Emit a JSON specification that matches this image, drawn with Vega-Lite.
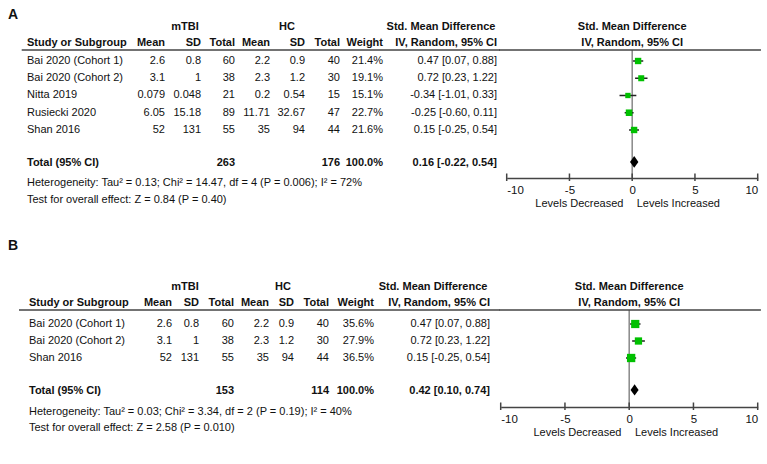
{
"$schema": "https://vega.github.io/schema/vega-lite/v6.json",
"padding": 0,
"background": "white",
"columns": 2,
"spacing": {"row": 52, "column": 0},
"bounds": "flush",
"config": {
  "view": {"stroke": null},
  "text": {"font": "Liberation Sans, Arial, sans-serif", "fontSize": 11, "color": "#111111"},
  "axis": {"labelFont": "Liberation Sans, Arial, sans-serif", "labelFontSize": 11.5, "labelColor": "#111111", "grid": false, "ticks": false, "domainColor": "#444444", "domainWidth": 1.5, "labelFlush": true, "labelPadding": 6}
},
"datasets": {
  "studies": [
    {"panel":"A","line":1,"study":"Bai 2020 (Cohort 1)","m1":2.6,"s1":0.8,"n1":60,"m2":2.2,"s2":0.9,"n2":40,"w":0.214,"smd":0.47,"lo":0.07,"hi":0.88,"ci":"0.47 [0.07, 0.88]"},
    {"panel":"A","line":2,"study":"Bai 2020 (Cohort 2)","m1":3.1,"s1":1,"n1":38,"m2":2.3,"s2":1.2,"n2":30,"w":0.191,"smd":0.72,"lo":0.23,"hi":1.22,"ci":"0.72 [0.23, 1.22]"},
    {"panel":"A","line":3,"study":"Nitta 2019","m1":0.079,"s1":0.048,"n1":21,"m2":0.2,"s2":0.54,"n2":15,"w":0.151,"smd":-0.34,"lo":-1.01,"hi":0.33,"ci":"-0.34 [-1.01, 0.33]"},
    {"panel":"A","line":4,"study":"Rusiecki 2020","m1":6.05,"s1":15.18,"n1":89,"m2":11.71,"s2":32.67,"n2":47,"w":0.227,"smd":-0.25,"lo":-0.60,"hi":0.11,"ci":"-0.25 [-0.60, 0.11]"},
    {"panel":"A","line":5,"study":"Shan 2016","m1":52,"s1":131,"n1":55,"m2":35,"s2":94,"n2":44,"w":0.216,"smd":0.15,"lo":-0.25,"hi":0.54,"ci":"0.15 [-0.25, 0.54]"},
    {"panel":"B","line":1,"study":"Bai 2020 (Cohort 1)","m1":2.6,"s1":0.8,"n1":60,"m2":2.2,"s2":0.9,"n2":40,"w":0.356,"smd":0.47,"lo":0.07,"hi":0.88,"ci":"0.47 [0.07, 0.88]"},
    {"panel":"B","line":2,"study":"Bai 2020 (Cohort 2)","m1":3.1,"s1":1,"n1":38,"m2":2.3,"s2":1.2,"n2":30,"w":0.279,"smd":0.72,"lo":0.23,"hi":1.22,"ci":"0.72 [0.23, 1.22]"},
    {"panel":"B","line":3,"study":"Shan 2016","m1":52,"s1":131,"n1":55,"m2":35,"s2":94,"n2":44,"w":0.365,"smd":0.15,"lo":-0.25,"hi":0.54,"ci":"0.15 [-0.25, 0.54]"}
  ],
  "totals": [
    {"panel":"A","study":"Total (95% CI)","n1":263,"n2":176,"w":1.0,"smd":0.16,"lo":-0.22,"hi":0.54,"ci":"0.16 [-0.22, 0.54]","het":"Heterogeneity: Tau² = 0.13; Chi² = 14.47, df = 4 (P = 0.006); I² = 72%","test":"Test for overall effect: Z = 0.84 (P = 0.40)"},
    {"panel":"B","study":"Total (95% CI)","n1":153,"n2":114,"w":1.0,"smd":0.42,"lo":0.10,"hi":0.74,"ci":"0.42 [0.10, 0.74]","het":"Heterogeneity: Tau² = 0.03; Chi² = 3.34, df = 2 (P = 0.19); I² = 40%","test":"Test for overall effect: Z = 2.58 (P = 0.010)"}
  ],
  "colheads": [
    {"label":"Study or Subgroup","c":0},{"label":"Mean","c":1},{"label":"SD","c":2},{"label":"Total","c":3},{"label":"Mean","c":4},{"label":"SD","c":5},{"label":"Total","c":6},{"label":"Weight","c":7},{"label":"IV, Random, 95% CI","c":8}
  ],
  "ticks": [{"v":-10},{"v":-5},{"v":0},{"v":5},{"v":10}]
},
"concat": [
  {
    "width": 500, "height": 178,
    "layer": [
      {"data":{"values":[{"label":"A"}]},"mark":{"type":"text","align":"left","fontWeight":"bold","fontSize":14},
       "encoding":{"x":{"datum":-1,"type":"quantitative","scale":{"domain":[-1,0,1,2,3,4,5,6,7,8,9],"range":[8,27,165,201,235,270,305,340,383,497,500],"nice":false,"zero":false},"axis":null},
                   "y":{"datum":-1.667,"type":"quantitative","scale":{"domain":[-2.536,7.783],"reverse":true,"nice":false,"zero":false},"axis":null},
                   "text":{"field":"label","type":"nominal"}}},
      {"data":{"values":[{"label":"mTBI"}]},"mark":{"type":"text","align":"center","fontWeight":"bold"},
       "encoding":{"x":{"datum":1.556,"type":"quantitative","axis":null},"y":{"datum":-0.97,"type":"quantitative","axis":null},"text":{"field":"label","type":"nominal"}}},
      {"data":{"values":[{"label":"HC"}]},"mark":{"type":"text","align":"center","fontWeight":"bold"},
       "encoding":{"x":{"datum":4.486,"type":"quantitative","axis":null},"y":{"datum":-0.97,"type":"quantitative","axis":null},"text":{"field":"label","type":"nominal"}}},
      {"data":{"values":[{"label":"Std. Mean Difference"}]},"mark":{"type":"text","align":"center","fontWeight":"bold"},
       "encoding":{"x":{"datum":7.509,"type":"quantitative","axis":null},"y":{"datum":-0.97,"type":"quantitative","axis":null},"text":{"field":"label","type":"nominal"}}},
      {"data":{"name":"colheads"},"transform":[{"filter":"datum.c === 0"}],"mark":{"type":"text","align":"left","fontWeight":"bold"},
       "encoding":{"x":{"field":"c","type":"quantitative","axis":null},"y":{"datum":-0.04,"type":"quantitative","axis":null},"text":{"field":"label","type":"nominal"}}},
      {"data":{"name":"colheads"},"transform":[{"filter":"datum.c > 0"}],"mark":{"type":"text","align":"right","fontWeight":"bold"},
       "encoding":{"x":{"field":"c","type":"quantitative","axis":null},"y":{"datum":-0.04,"type":"quantitative","axis":null},"text":{"field":"label","type":"nominal"}}},
      {"data":{"values":[{}]},"mark":{"type":"rule","color":"#444444","strokeWidth":1.5},
       "encoding":{"x":{"datum":-0.279,"type":"quantitative","axis":null},"x2":{"datum":9},"y":{"datum":0.362,"type":"quantitative","axis":null}}},
      {"data":{"name":"studies"},"transform":[{"filter":"datum.panel === 'A'"}],"mark":{"type":"text","align":"left"},
       "encoding":{"x":{"datum":0,"type":"quantitative","axis":null},"y":{"field":"line","type":"quantitative","axis":null},"text":{"field":"study","type":"nominal"}}},
      {"data":{"name":"studies"},"transform":[{"filter":"datum.panel === 'A'"}],"mark":{"type":"text","align":"right"},
       "encoding":{"x":{"datum":1,"type":"quantitative","axis":null},"y":{"field":"line","type":"quantitative","axis":null},"text":{"field":"m1","type":"nominal"}}},
      {"data":{"name":"studies"},"transform":[{"filter":"datum.panel === 'A'"}],"mark":{"type":"text","align":"right"},
       "encoding":{"x":{"datum":2,"type":"quantitative","axis":null},"y":{"field":"line","type":"quantitative","axis":null},"text":{"field":"s1","type":"nominal"}}},
      {"data":{"name":"studies"},"transform":[{"filter":"datum.panel === 'A'"}],"mark":{"type":"text","align":"right"},
       "encoding":{"x":{"datum":3,"type":"quantitative","axis":null},"y":{"field":"line","type":"quantitative","axis":null},"text":{"field":"n1","type":"nominal"}}},
      {"data":{"name":"studies"},"transform":[{"filter":"datum.panel === 'A'"}],"mark":{"type":"text","align":"right"},
       "encoding":{"x":{"datum":4,"type":"quantitative","axis":null},"y":{"field":"line","type":"quantitative","axis":null},"text":{"field":"m2","type":"nominal"}}},
      {"data":{"name":"studies"},"transform":[{"filter":"datum.panel === 'A'"}],"mark":{"type":"text","align":"right"},
       "encoding":{"x":{"datum":5,"type":"quantitative","axis":null},"y":{"field":"line","type":"quantitative","axis":null},"text":{"field":"s2","type":"nominal"}}},
      {"data":{"name":"studies"},"transform":[{"filter":"datum.panel === 'A'"}],"mark":{"type":"text","align":"right"},
       "encoding":{"x":{"datum":6,"type":"quantitative","axis":null},"y":{"field":"line","type":"quantitative","axis":null},"text":{"field":"n2","type":"nominal"}}},
      {"data":{"name":"studies"},"transform":[{"filter":"datum.panel === 'A'"}],"mark":{"type":"text","align":"right"},
       "encoding":{"x":{"datum":7,"type":"quantitative","axis":null},"y":{"field":"line","type":"quantitative","axis":null},"text":{"field":"w","type":"quantitative","format":".1%"}}},
      {"data":{"name":"studies"},"transform":[{"filter":"datum.panel === 'A'"}],"mark":{"type":"text","align":"right"},
       "encoding":{"x":{"datum":8,"type":"quantitative","axis":null},"y":{"field":"line","type":"quantitative","axis":null},"text":{"field":"ci","type":"nominal"}}},
      {"data":{"name":"totals"},"transform":[{"filter":"datum.panel === 'A'"}],"mark":{"type":"text","align":"left","fontWeight":"bold"},
       "encoding":{"x":{"datum":0,"type":"quantitative","axis":null},"y":{"datum":6.91,"type":"quantitative","axis":null},"text":{"field":"study","type":"nominal"}}},
      {"data":{"name":"totals"},"transform":[{"filter":"datum.panel === 'A'"}],"mark":{"type":"text","align":"right","fontWeight":"bold"},
       "encoding":{"x":{"datum":3,"type":"quantitative","axis":null},"y":{"datum":6.91,"type":"quantitative","axis":null},"text":{"field":"n1","type":"nominal"}}},
      {"data":{"name":"totals"},"transform":[{"filter":"datum.panel === 'A'"}],"mark":{"type":"text","align":"right","fontWeight":"bold"},
       "encoding":{"x":{"datum":6,"type":"quantitative","axis":null},"y":{"datum":6.91,"type":"quantitative","axis":null},"text":{"field":"n2","type":"nominal"}}},
      {"data":{"name":"totals"},"transform":[{"filter":"datum.panel === 'A'"}],"mark":{"type":"text","align":"right","fontWeight":"bold"},
       "encoding":{"x":{"datum":7,"type":"quantitative","axis":null},"y":{"datum":6.91,"type":"quantitative","axis":null},"text":{"field":"w","type":"quantitative","format":".1%"}}},
      {"data":{"name":"totals"},"transform":[{"filter":"datum.panel === 'A'"}],"mark":{"type":"text","align":"right","fontWeight":"bold"},
       "encoding":{"x":{"datum":8,"type":"quantitative","axis":null},"y":{"datum":6.91,"type":"quantitative","axis":null},"text":{"field":"ci","type":"nominal"}}},
      {"data":{"name":"totals"},"transform":[{"filter":"datum.panel === 'A'"}],"mark":{"type":"text","align":"left"},
       "encoding":{"x":{"datum":0,"type":"quantitative","axis":null},"y":{"datum":8.072,"type":"quantitative","axis":null},"text":{"field":"het","type":"nominal"}}},
      {"data":{"name":"totals"},"transform":[{"filter":"datum.panel === 'A'"}],"mark":{"type":"text","align":"left"},
       "encoding":{"x":{"datum":0,"type":"quantitative","axis":null},"y":{"datum":9.058,"type":"quantitative","axis":null},"text":{"field":"test","type":"nominal"}}}
    ]
  },
  {
    "width": 267, "height": 178,
    "layer": [
      {"data":{"values":[{}]},"mark":{"type":"rule","color":"#888888","strokeWidth":1.5},
       "encoding":{"x":{"datum":0,"type":"quantitative","scale":{"domain":[-10,10],"range":[6.7,257.7],"nice":false,"zero":false},"axis":{"values":[-10,-5,0,5,10],"labelExpr":"'' + datum.value","title":null}},
                   "y":{"datum":0.362,"type":"quantitative","scale":{"domain":[-2.536,7.783],"reverse":true,"nice":false,"zero":false},"axis":null},"y2":{"datum":7.783}}},
      {"data":{"values":[{}]},"mark":{"type":"rule","color":"#444444","strokeWidth":1.5},
       "encoding":{"x":{"datum":-10.6,"type":"quantitative","axis":{"values":[-10,-5,0,5,10],"labelExpr":"'' + datum.value","title":null}},"x2":{"datum":10.26},"y":{"datum":0.362,"type":"quantitative","axis":null}}},
      {"data":{"name":"studies"},"transform":[{"filter":"datum.panel === 'A'"}],"mark":{"type":"rule","color":"#222222","strokeWidth":1.5},
       "encoding":{"x":{"field":"lo","type":"quantitative","axis":{"values":[-10,-5,0,5,10],"labelExpr":"'' + datum.value","title":null}},"x2":{"field":"hi"},"y":{"field":"line","type":"quantitative","axis":null}}},
      {"data":{"name":"studies"},"transform":[{"filter":"datum.panel === 'A'"}],"mark":{"type":"point","shape":"square","filled":true,"color":"#00c000","opacity":1},
       "encoding":{"x":{"field":"smd","type":"quantitative","axis":{"values":[-10,-5,0,5,10],"labelExpr":"'' + datum.value","title":null}},"y":{"field":"line","type":"quantitative","axis":null},
                   "size":{"field":"w","type":"quantitative","scale":{"domain":[0,0.4],"range":[0,76]},"legend":null}}},
      {"data":{"name":"totals"},"transform":[{"filter":"datum.panel === 'A'"}],"mark":{"type":"point","shape":"M0,-1L0.72,0L0,1L-0.72,0Z","filled":true,"color":"#000000","opacity":1,"size":135},
       "encoding":{"x":{"field":"smd","type":"quantitative","axis":{"values":[-10,-5,0,5,10],"labelExpr":"'' + datum.value","title":null}},"y":{"datum":6.85,"type":"quantitative","axis":null}}},
      {"data":{"name":"ticks"},"mark":{"type":"rule","color":"#444444","strokeWidth":1.5},
       "encoding":{"x":{"field":"v","type":"quantitative","axis":{"values":[-10,-5,0,5,10],"labelExpr":"'' + datum.value","title":null}},"y":{"datum":7.522,"type":"quantitative","axis":null},"y2":{"datum":7.957}}},
      {"data":{"values":[{"label":"Std. Mean Difference"}]},"mark":{"type":"text","align":"center","fontWeight":"bold"},
       "encoding":{"x":{"datum":0,"type":"quantitative","axis":{"values":[-10,-5,0,5,10],"labelExpr":"'' + datum.value","title":null}},"y":{"datum":-0.97,"type":"quantitative","axis":null},"text":{"field":"label","type":"nominal"}}},
      {"data":{"values":[{"label":"IV, Random, 95% CI"}]},"mark":{"type":"text","align":"center","fontWeight":"bold"},
       "encoding":{"x":{"datum":0,"type":"quantitative","axis":{"values":[-10,-5,0,5,10],"labelExpr":"'' + datum.value","title":null}},"y":{"datum":-0.04,"type":"quantitative","axis":null},"text":{"field":"label","type":"nominal"}}},
      {"data":{"values":[{"label":"Levels Decreased"}]},"mark":{"type":"text","align":"right"},
       "encoding":{"x":{"datum":-0.7,"type":"quantitative","axis":{"values":[-10,-5,0,5,10],"labelExpr":"'' + datum.value","title":null}},"y":{"datum":9.29,"type":"quantitative","axis":null},"text":{"field":"label","type":"nominal"}}},
      {"data":{"values":[{"label":"Levels Increased"}]},"mark":{"type":"text","align":"left"},
       "encoding":{"x":{"datum":0.36,"type":"quantitative","axis":{"values":[-10,-5,0,5,10],"labelExpr":"'' + datum.value","title":null}},"y":{"datum":9.29,"type":"quantitative","axis":null},"text":{"field":"label","type":"nominal"}}}
    ]
  },
  {
    "width": 500, "height": 177,
    "layer": [
      {"data":{"values":[{"label":"B"}]},"mark":{"type":"text","align":"left","fontWeight":"bold","fontSize":14},
       "encoding":{"x":{"datum":-1,"type":"quantitative","scale":{"domain":[-1,0,1,2,3,4,5,6,7,8,9],"range":[8,29,172,199,234,269,294,329,374,490,500],"nice":false,"zero":false},"axis":null},
                   "y":{"datum":-3.588,"type":"quantitative","scale":{"domain":[-4.529,5.882],"reverse":true,"nice":false,"zero":false},"axis":null},
                   "text":{"field":"label","type":"nominal"}}},
      {"data":{"values":[{"label":"mTBI"}]},"mark":{"type":"text","align":"center","fontWeight":"bold"},
       "encoding":{"x":{"datum":1.481,"type":"quantitative","axis":null},"y":{"datum":-1.176,"type":"quantitative","axis":null},"text":{"field":"label","type":"nominal"}}},
      {"data":{"values":[{"label":"HC"}]},"mark":{"type":"text","align":"center","fontWeight":"bold"},
       "encoding":{"x":{"datum":4.56,"type":"quantitative","axis":null},"y":{"datum":-1.176,"type":"quantitative","axis":null},"text":{"field":"label","type":"nominal"}}},
      {"data":{"values":[{"label":"Std. Mean Difference"}]},"mark":{"type":"text","align":"center","fontWeight":"bold"},
       "encoding":{"x":{"datum":7.509,"type":"quantitative","axis":null},"y":{"datum":-1.176,"type":"quantitative","axis":null},"text":{"field":"label","type":"nominal"}}},
      {"data":{"name":"colheads"},"transform":[{"filter":"datum.c === 0"}],"mark":{"type":"text","align":"left","fontWeight":"bold"},
       "encoding":{"x":{"field":"c","type":"quantitative","axis":null},"y":{"datum":-0.235,"type":"quantitative","axis":null},"text":{"field":"label","type":"nominal"}}},
      {"data":{"name":"colheads"},"transform":[{"filter":"datum.c > 0"}],"mark":{"type":"text","align":"right","fontWeight":"bold"},
       "encoding":{"x":{"field":"c","type":"quantitative","axis":null},"y":{"datum":-0.235,"type":"quantitative","axis":null},"text":{"field":"label","type":"nominal"}}},
      {"data":{"values":[{}]},"mark":{"type":"rule","color":"#444444","strokeWidth":1.5},
       "encoding":{"x":{"datum":-0.476,"type":"quantitative","axis":null},"x2":{"datum":9},"y":{"datum":0.176,"type":"quantitative","axis":null}}},
      {"data":{"name":"studies"},"transform":[{"filter":"datum.panel === 'B'"}],"mark":{"type":"text","align":"left"},
       "encoding":{"x":{"datum":0,"type":"quantitative","axis":null},"y":{"field":"line","type":"quantitative","axis":null},"text":{"field":"study","type":"nominal"}}},
      {"data":{"name":"studies"},"transform":[{"filter":"datum.panel === 'B'"}],"mark":{"type":"text","align":"right"},
       "encoding":{"x":{"datum":1,"type":"quantitative","axis":null},"y":{"field":"line","type":"quantitative","axis":null},"text":{"field":"m1","type":"nominal"}}},
      {"data":{"name":"studies"},"transform":[{"filter":"datum.panel === 'B'"}],"mark":{"type":"text","align":"right"},
       "encoding":{"x":{"datum":2,"type":"quantitative","axis":null},"y":{"field":"line","type":"quantitative","axis":null},"text":{"field":"s1","type":"nominal"}}},
      {"data":{"name":"studies"},"transform":[{"filter":"datum.panel === 'B'"}],"mark":{"type":"text","align":"right"},
       "encoding":{"x":{"datum":3,"type":"quantitative","axis":null},"y":{"field":"line","type":"quantitative","axis":null},"text":{"field":"n1","type":"nominal"}}},
      {"data":{"name":"studies"},"transform":[{"filter":"datum.panel === 'B'"}],"mark":{"type":"text","align":"right"},
       "encoding":{"x":{"datum":4,"type":"quantitative","axis":null},"y":{"field":"line","type":"quantitative","axis":null},"text":{"field":"m2","type":"nominal"}}},
      {"data":{"name":"studies"},"transform":[{"filter":"datum.panel === 'B'"}],"mark":{"type":"text","align":"right"},
       "encoding":{"x":{"datum":5,"type":"quantitative","axis":null},"y":{"field":"line","type":"quantitative","axis":null},"text":{"field":"s2","type":"nominal"}}},
      {"data":{"name":"studies"},"transform":[{"filter":"datum.panel === 'B'"}],"mark":{"type":"text","align":"right"},
       "encoding":{"x":{"datum":6,"type":"quantitative","axis":null},"y":{"field":"line","type":"quantitative","axis":null},"text":{"field":"n2","type":"nominal"}}},
      {"data":{"name":"studies"},"transform":[{"filter":"datum.panel === 'B'"}],"mark":{"type":"text","align":"right"},
       "encoding":{"x":{"datum":7,"type":"quantitative","axis":null},"y":{"field":"line","type":"quantitative","axis":null},"text":{"field":"w","type":"quantitative","format":".1%"}}},
      {"data":{"name":"studies"},"transform":[{"filter":"datum.panel === 'B'"}],"mark":{"type":"text","align":"right"},
       "encoding":{"x":{"datum":8,"type":"quantitative","axis":null},"y":{"field":"line","type":"quantitative","axis":null},"text":{"field":"ci","type":"nominal"}}},
      {"data":{"name":"totals"},"transform":[{"filter":"datum.panel === 'B'"}],"mark":{"type":"text","align":"left","fontWeight":"bold"},
       "encoding":{"x":{"datum":0,"type":"quantitative","axis":null},"y":{"datum":4.94,"type":"quantitative","axis":null},"text":{"field":"study","type":"nominal"}}},
      {"data":{"name":"totals"},"transform":[{"filter":"datum.panel === 'B'"}],"mark":{"type":"text","align":"right","fontWeight":"bold"},
       "encoding":{"x":{"datum":3,"type":"quantitative","axis":null},"y":{"datum":4.94,"type":"quantitative","axis":null},"text":{"field":"n1","type":"nominal"}}},
      {"data":{"name":"totals"},"transform":[{"filter":"datum.panel === 'B'"}],"mark":{"type":"text","align":"right","fontWeight":"bold"},
       "encoding":{"x":{"datum":6,"type":"quantitative","axis":null},"y":{"datum":4.94,"type":"quantitative","axis":null},"text":{"field":"n2","type":"nominal"}}},
      {"data":{"name":"totals"},"transform":[{"filter":"datum.panel === 'B'"}],"mark":{"type":"text","align":"right","fontWeight":"bold"},
       "encoding":{"x":{"datum":7,"type":"quantitative","axis":null},"y":{"datum":4.94,"type":"quantitative","axis":null},"text":{"field":"w","type":"quantitative","format":".1%"}}},
      {"data":{"name":"totals"},"transform":[{"filter":"datum.panel === 'B'"}],"mark":{"type":"text","align":"right","fontWeight":"bold"},
       "encoding":{"x":{"datum":8,"type":"quantitative","axis":null},"y":{"datum":4.94,"type":"quantitative","axis":null},"text":{"field":"ci","type":"nominal"}}},
      {"data":{"name":"totals"},"transform":[{"filter":"datum.panel === 'B'"}],"mark":{"type":"text","align":"left"},
       "encoding":{"x":{"datum":0,"type":"quantitative","axis":null},"y":{"datum":6.176,"type":"quantitative","axis":null},"text":{"field":"het","type":"nominal"}}},
      {"data":{"name":"totals"},"transform":[{"filter":"datum.panel === 'B'"}],"mark":{"type":"text","align":"left"},
       "encoding":{"x":{"datum":0,"type":"quantitative","axis":null},"y":{"datum":7.118,"type":"quantitative","axis":null},"text":{"field":"test","type":"nominal"}}}
    ]
  },
  {
    "width": 267, "height": 177,
    "layer": [
      {"data":{"values":[{}]},"mark":{"type":"rule","color":"#888888","strokeWidth":1.5},
       "encoding":{"x":{"datum":0,"type":"quantitative","scale":{"domain":[-10,10],"range":[0.7,257.7],"nice":false,"zero":false},"axis":{"values":[-10,-5,0,5,10],"labelExpr":"'' + datum.value","title":null}},
                   "y":{"datum":0.176,"type":"quantitative","scale":{"domain":[-4.529,5.882],"reverse":true,"nice":false,"zero":false},"axis":null},"y2":{"datum":5.882}}},
      {"data":{"values":[{}]},"mark":{"type":"rule","color":"#444444","strokeWidth":1.5},
       "encoding":{"x":{"datum":-10.1,"type":"quantitative","axis":{"values":[-10,-5,0,5,10],"labelExpr":"'' + datum.value","title":null}},"x2":{"datum":10.25},"y":{"datum":0.176,"type":"quantitative","axis":null}}},
      {"data":{"name":"studies"},"transform":[{"filter":"datum.panel === 'B'"}],"mark":{"type":"rule","color":"#222222","strokeWidth":1.5},
       "encoding":{"x":{"field":"lo","type":"quantitative","axis":{"values":[-10,-5,0,5,10],"labelExpr":"'' + datum.value","title":null}},"x2":{"field":"hi"},"y":{"field":"line","type":"quantitative","axis":null}}},
      {"data":{"name":"studies"},"transform":[{"filter":"datum.panel === 'B'"}],"mark":{"type":"point","shape":"square","filled":true,"color":"#00c000","opacity":1},
       "encoding":{"x":{"field":"smd","type":"quantitative","axis":{"values":[-10,-5,0,5,10],"labelExpr":"'' + datum.value","title":null}},"y":{"field":"line","type":"quantitative","axis":null},
                   "size":{"field":"w","type":"quantitative","scale":{"domain":[0,0.4],"range":[0,76]},"legend":null}}},
      {"data":{"name":"totals"},"transform":[{"filter":"datum.panel === 'B'"}],"mark":{"type":"point","shape":"M0,-1L0.72,0L0,1L-0.72,0Z","filled":true,"color":"#000000","opacity":1,"size":125},
       "encoding":{"x":{"field":"smd","type":"quantitative","axis":{"values":[-10,-5,0,5,10],"labelExpr":"'' + datum.value","title":null}},"y":{"datum":4.88,"type":"quantitative","axis":null}}},
      {"data":{"name":"ticks"},"mark":{"type":"rule","color":"#444444","strokeWidth":1.5},
       "encoding":{"x":{"field":"v","type":"quantitative","axis":{"values":[-10,-5,0,5,10],"labelExpr":"'' + datum.value","title":null}},"y":{"datum":5.617,"type":"quantitative","axis":null},"y2":{"datum":6.059}}},
      {"data":{"values":[{"label":"Std. Mean Difference"}]},"mark":{"type":"text","align":"center","fontWeight":"bold"},
       "encoding":{"x":{"datum":0,"type":"quantitative","axis":{"values":[-10,-5,0,5,10],"labelExpr":"'' + datum.value","title":null}},"y":{"datum":-1.176,"type":"quantitative","axis":null},"text":{"field":"label","type":"nominal"}}},
      {"data":{"values":[{"label":"IV, Random, 95% CI"}]},"mark":{"type":"text","align":"center","fontWeight":"bold"},
       "encoding":{"x":{"datum":0,"type":"quantitative","axis":{"values":[-10,-5,0,5,10],"labelExpr":"'' + datum.value","title":null}},"y":{"datum":-0.235,"type":"quantitative","axis":null},"text":{"field":"label","type":"nominal"}}},
      {"data":{"values":[{"label":"Levels Decreased"}]},"mark":{"type":"text","align":"right"},
       "encoding":{"x":{"datum":-0.6,"type":"quantitative","axis":{"values":[-10,-5,0,5,10],"labelExpr":"'' + datum.value","title":null}},"y":{"datum":7.41,"type":"quantitative","axis":null},"text":{"field":"label","type":"nominal"}}},
      {"data":{"values":[{"label":"Levels Increased"}]},"mark":{"type":"text","align":"left"},
       "encoding":{"x":{"datum":0.45,"type":"quantitative","axis":{"values":[-10,-5,0,5,10],"labelExpr":"'' + datum.value","title":null}},"y":{"datum":7.41,"type":"quantitative","axis":null},"text":{"field":"label","type":"nominal"}}}
    ]
  }
]
}
